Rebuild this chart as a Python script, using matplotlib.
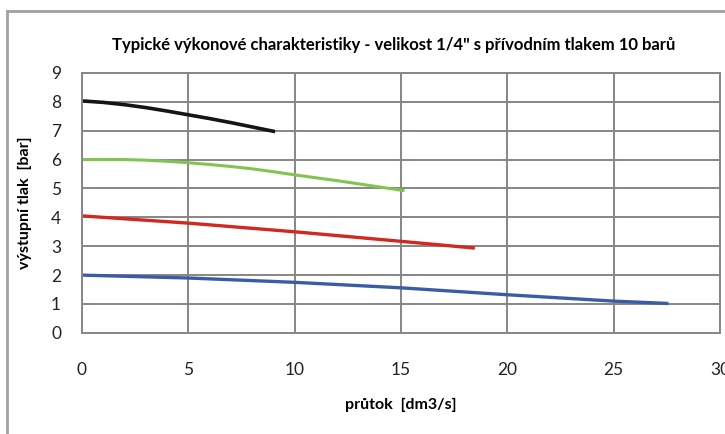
import matplotlib
matplotlib.use("Agg")
import matplotlib.pyplot as plt
from matplotlib.lines import Line2D

black_x = [0, 1, 2, 3, 4, 5, 6, 7, 8, 9]
black_y = [8.03, 7.98, 7.9, 7.8, 7.68, 7.55, 7.42, 7.28, 7.13, 6.98]
green_x = [0, 2, 3, 4, 5, 6, 7, 8, 9, 10, 11, 12, 13, 14, 15.1]
green_y = [6.0, 6.0, 5.98, 5.94, 5.89, 5.83, 5.76, 5.68, 5.58, 5.47, 5.37, 5.27, 5.16, 5.05, 4.93]
red_x = [0, 5, 10, 15, 18.4]
red_y = [4.05, 3.8, 3.5, 3.17, 2.94]
blue_x = [0, 5, 10, 15, 20, 25, 27.5]
blue_y = [2.0, 1.9, 1.75, 1.56, 1.32, 1.1, 1.02]

x_ticks = [0, 5, 10, 15, 20, 25, 30]
y_ticks = [0, 1, 2, 3, 4, 5, 6, 7, 8, 9]

plt.rcParams['font.family'] = ['Lato', 'DejaVu Sans']

fig = plt.figure(figsize=(7.25, 4.34), dpi=100)
ax = fig.add_axes([0.113, 0.233, 0.88, 0.599])

ax.plot(black_x, black_y, color='#151515', lw=2.6)
ax.plot(green_x, green_y, color='#82c452', lw=2.2)
ax.plot(red_x, red_y, color='#d1291f', lw=2.4)
ax.plot(blue_x, blue_y, color='#3a5ca8', lw=2.4)

ax.set_xlim(0, 30)
ax.set_ylim(0, 9)
ax.set_xticks(x_ticks)
ax.set_yticks(y_ticks)
ax.grid(True, color='#8a8585', lw=1.4)
ax.set_axisbelow(True)
for s in ax.spines.values():
    s.set_color('#8a8585')
    s.set_linewidth(1.4)
ax.tick_params(length=0, labelsize=12.5, labelcolor='#222222')
ax.tick_params(axis='x', pad=21)
ax.tick_params(axis='y', pad=15)

fig.text(0.543, 0.897, 'Typické výkonové charakteristiky - velikost 1/4" s přívodním tlakem 10 barů',
         ha='center', va='center', fontsize=12, fontweight='bold')
ax.set_xlabel('průtok  [dm3/s]', fontsize=11.5, fontweight='bold', labelpad=14)
ax.set_ylabel('výstupní tlak  [bar]', fontsize=11.5, fontweight='bold', labelpad=14)

# rámeček okolo (snímek obrazovky)
fig.add_artist(Line2D([0.01, 1.0], [0.975, 0.975], transform=fig.transFigure, color='#a0a0a0', lw=2))
fig.add_artist(Line2D([0.01, 0.01], [0.0, 0.975], transform=fig.transFigure, color='#a0a0a0', lw=2))

fig.savefig('out.png', dpi=100)
